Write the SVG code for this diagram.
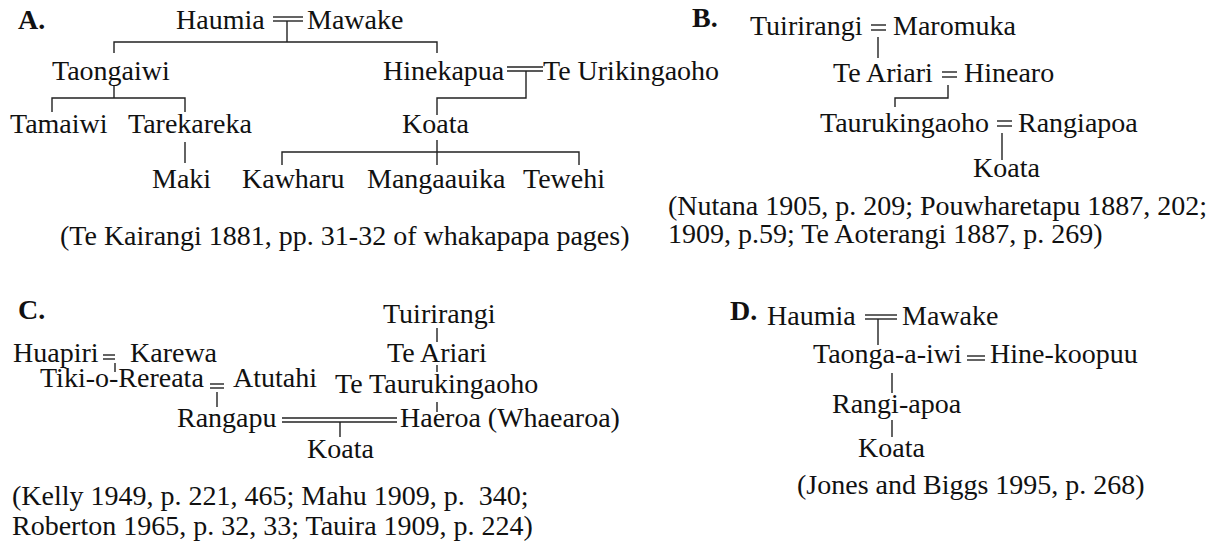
<svg xmlns="http://www.w3.org/2000/svg" width="1224" height="546" viewBox="0 0 1224 546">
<style>
text{font-family:"Liberation Serif","Times New Roman",serif;font-size:28px;fill:#111}
.lbl{font-weight:bold}
.c line,.c path{stroke:#222;stroke-width:1.4;fill:none}
</style>
<rect width="1224" height="546" fill="#fff"/>
<g id="labels">
<text class="lbl" x="18" y="29">A.</text>
<text class="lbl" x="692" y="27">B.</text>
<text class="lbl" x="18" y="319">C.</text>
<text class="lbl" x="730" y="320">D.</text>
</g>
<g id="A-nodes">
<g id="a-haumia"><text x="176" y="29">Haumia</text></g>
<g id="a-mawake"><text x="307" y="29">Mawake</text></g>
<g id="a-taongaiwi"><text x="52" y="80">Taongaiwi</text></g>
<g id="a-hinekapua"><text x="383" y="80">Hinekapua</text></g>
<g id="a-teurikingaoho"><text x="543" y="80">Te Urikingaoho</text></g>
<g id="a-tamaiwi"><text x="10" y="133">Tamaiwi</text></g>
<g id="a-tarekareka"><text x="128" y="133">Tarekareka</text></g>
<g id="a-koata"><text x="402" y="133">Koata</text></g>
<g id="a-maki"><text x="152" y="188">Maki</text></g>
<g id="a-kawharu"><text x="242" y="188">Kawharu</text></g>
<g id="a-mangaauika"><text x="367" y="188">Mangaauika</text></g>
<g id="a-tewehi"><text x="523" y="188">Tewehi</text></g>
<g id="a-cite"><text x="60" y="245">(Te Kairangi 1881, pp. 31-32 of whakapapa pages)</text></g>
</g>
<g id="B-nodes">
<g id="b-tuirirangi"><text x="750" y="35">Tuirirangi</text></g>
<g id="b-maromuka"><text x="893" y="35">Maromuka</text></g>
<g id="b-teariari"><text x="833" y="82">Te Ariari</text></g>
<g id="b-hinearo"><text x="964" y="82">Hinearo</text></g>
<g id="b-taurukingaoho"><text x="820" y="132">Taurukingaoho</text></g>
<g id="b-rangiapoa"><text x="1018" y="132">Rangiapoa</text></g>
<g id="b-koata"><text x="973" y="177">Koata</text></g>
<g id="b-cite"><text x="668" y="215">(Nutana 1905, p. 209; Pouwharetapu 1887, 202;</text><text x="668" y="243">1909, p.59; Te Aoterangi 1887, p. 269)</text></g>
</g>
<g id="C-nodes">
<g id="c-huapiri"><text x="13" y="362">Huapiri</text></g>
<g id="c-karewa"><text x="130" y="362">Karewa</text></g>
<g id="c-tiki"><text x="40" y="387">Tiki-o-Rereata</text></g>
<g id="c-atutahi"><text x="233" y="387">Atutahi</text></g>
<g id="c-rangapu"><text x="177" y="427">Rangapu</text></g>
<g id="c-tuirirangi"><text x="383" y="323">Tuirirangi</text></g>
<g id="c-teariari"><text x="387" y="362">Te Ariari</text></g>
<g id="c-tetaurukingaoho"><text x="335" y="393">Te Taurukingaoho</text></g>
<g id="c-haeroa"><text x="400" y="427">Haeroa (Whaearoa)</text></g>
<g id="c-koata"><text x="307" y="458">Koata</text></g>
<g id="c-cite"><text x="12" y="505" xml:space="preserve">(Kelly 1949, p. 221, 465; Mahu 1909, p.  340;</text><text x="12" y="535">Roberton 1965, p. 32, 33; Tauira 1909, p. 224)</text></g>
</g>
<g id="D-nodes">
<g id="d-haumia"><text x="767" y="325">Haumia</text></g>
<g id="d-mawake"><text x="902" y="325">Mawake</text></g>
<g id="d-taonga"><text x="813" y="363">Taonga-a-iwi</text></g>
<g id="d-hinekoopuu"><text x="990" y="363">Hine-koopuu</text></g>
<g id="d-rangiapoa"><text x="832" y="413">Rangi-apoa</text></g>
<g id="d-koata"><text x="858" y="457">Koata</text></g>
<g id="d-cite"><text x="797" y="494">(Jones and Biggs 1995, p. 268)</text></g>
</g>
<g id="connectors" class="c">
<!-- A -->
<line x1="273" y1="17" x2="303" y2="17"/><line x1="273" y1="21" x2="303" y2="21"/>
<line x1="287" y1="21" x2="287" y2="42"/>
<path d="M114 53V42H437V53"/>
<line x1="114" y1="86" x2="114" y2="98"/>
<path d="M52 112V98H185V112"/>
<line x1="185" y1="142" x2="185" y2="163"/>
<line x1="507" y1="67" x2="543" y2="67"/><line x1="507" y1="71" x2="543" y2="71"/>
<path d="M526 71V98H437V115"/>
<line x1="437" y1="140" x2="437" y2="165"/>
<path d="M282 165V152H579V165"/>
<!-- B -->
<line x1="871" y1="25" x2="886" y2="25"/><line x1="871" y1="30" x2="886" y2="30"/>
<line x1="878" y1="37" x2="878" y2="58"/>
<line x1="942" y1="72" x2="957" y2="72"/><line x1="942" y1="77" x2="957" y2="77"/>
<path d="M948 85V98H895V107"/>
<line x1="997" y1="121" x2="1012" y2="121"/><line x1="997" y1="126" x2="1012" y2="126"/>
<line x1="1002" y1="133" x2="1002" y2="160"/>
<!-- C -->
<line x1="103" y1="355" x2="115" y2="355"/><line x1="103" y1="359" x2="115" y2="359"/>
<line x1="115" y1="363" x2="115" y2="372"/>
<line x1="210" y1="384" x2="224" y2="384"/><line x1="210" y1="388" x2="224" y2="388"/>
<line x1="217" y1="392" x2="217" y2="407"/>
<line x1="282" y1="418" x2="397" y2="418"/><line x1="282" y1="422" x2="397" y2="422"/>
<line x1="340" y1="422" x2="340" y2="437"/>
<line x1="437" y1="328" x2="437" y2="342"/>
<line x1="437" y1="365" x2="437" y2="372"/>
<line x1="437" y1="402" x2="437" y2="412"/>
<!-- D -->
<line x1="865" y1="315" x2="897" y2="315"/><line x1="865" y1="319" x2="897" y2="319"/>
<line x1="878" y1="319" x2="878" y2="345"/>
<line x1="967" y1="356" x2="985" y2="356"/><line x1="967" y1="360" x2="985" y2="360"/>
<line x1="892" y1="373" x2="892" y2="393"/>
<line x1="892" y1="420" x2="892" y2="437"/>
</g>
</svg>
